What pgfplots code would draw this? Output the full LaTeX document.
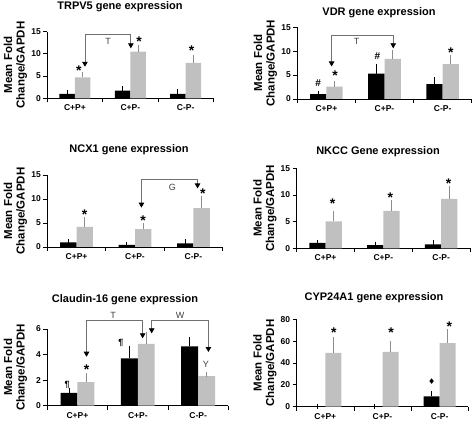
\documentclass[border=0pt]{standalone}
\usepackage{pgfplots}
\pgfplotsset{compat=1.18}
\usepackage{fontspec}
\setmainfont{Liberation Sans}
\newfontfamily\dejavu{DejaVu Sans}
\usetikzlibrary{arrows.meta}
\definecolor{barg}{HTML}{C0C0C0}
\definecolor{errg}{HTML}{8C8C8C}
\definecolor{brkc}{HTML}{707070}

\pgfplotsset{
 panel/.style={
  ybar, bar width=0.28, ybar=0pt,
  scale only axis, anchor=south west,
  xmin=0.5, xmax=3.5, ymin=0,
  axis x line*=bottom, axis y line*=left,
  axis line style={line width=0.8pt},
  xtick={0.5,1.5,2.5,3.5}, x tick label as interval,
  xticklabels={C+P+,C+P-,C-P-},
  tick align=outside, major tick length=4pt,
  tick style={black, line width=0.8pt},
  xticklabel style={font=\fontsize{8.5}{10}\selectfont\bfseries, yshift=1pt},
  yticklabel style={font=\fontsize{8.5}{10}\selectfont\bfseries, xshift=1pt},
  /pgf/number format/assume math mode=true,
  ylabel={Mean Fold\\Change/GAPDH},
  ylabel style={font=\fontsize{11.5}{12.5}\selectfont\bfseries, align=center,
    at={([xshift=-20pt]axis description cs:0,0.5)}, anchor=south, inner sep=0pt},
  clip=false,
 },
 blk/.style={fill=black, draw=none, error bars/.cd, y dir=plus, y explicit,
   error bar style={draw=black, line width=0.8pt},
   error mark options={draw=black, mark size=2.5pt, line width=0.8pt}},
 gry/.style={fill=barg, draw=none, error bars/.cd, y dir=plus, y explicit,
   error bar style={draw=errg, line width=0.8pt},
   error mark options={draw=errg, mark size=2.5pt, line width=0.8pt}},
}
\tikzset{
 brk/.style={draw=brkc, line width=0.8pt,
   {Triangle[length=5pt,width=5.5pt,color=black,fill=black]}-{Triangle[length=5pt,width=5.5pt,color=black,fill=black]}},
 star/.style={font=\fontsize{14}{14}\selectfont\bfseries, anchor=base, yshift=-7.8pt, inner sep=0pt},
 hash/.style={font=\fontsize{10}{10}\selectfont\bfseries, inner sep=0pt},
 para/.style={font=\fontsize{9}{9}\selectfont\bfseries, inner sep=0pt},
 lett/.style={font=\fontsize{9}{9}\selectfont, text=black!75, inner sep=0pt},
 ttl/.style={font=\fontsize{11}{13}\selectfont\bfseries},
}

\begin{document}
\begin{tikzpicture}
\useasboundingbox (0,0) rectangle (473pt,420pt);

% ---------- TRPV5 ----------
\node[ttl] at (120pt,413pt) {TRPV5 gene expression};
\begin{axis}[panel, at={(47.3pt,321.7pt)}, width=166pt, height=66.6pt,
  ymax=15, ytick={0,5,10,15}]
\addplot[blk] coordinates {(1,1.0) +- (0,0.2) (2,1.7) +- (0,0.4) (3,1.0) +- (0,0.5)};
\addplot[gry] coordinates {(1,4.7) +- (0,0.75) (2,10.5) +- (0,1.05) (3,8.0) +- (0,1.3)};
\draw[brk] (axis cs:1.18,7.1) -- (axis cs:1.18,14.4) -- (axis cs:2.01,14.4) -- (axis cs:2.01,11.25);
\node[lett] at (axis cs:1.60,12.9) {T};
\node[star] at (axis cs:1.07,6.9) {*};
\node[star] at (axis cs:2.16,13.5) {*};
\node[star] at (axis cs:3.11,11.5) {*};
\end{axis}

% ---------- VDR ----------
\node[ttl] at (379pt,407.3pt) {VDR gene expression};
\begin{axis}[panel, at={(297.3pt,321pt)}, width=174.4pt, height=71.7pt,
  ymax=15, ytick={0,5,10,15}]
\addplot[blk] coordinates {(1,1.0) +- (0,0.25) (2,5.3) +- (0,1.5) (3,3.1) +- (0,0.9)};
\addplot[gry] coordinates {(1,2.6) +- (0,0.7) (2,8.4) +- (0,1.4) (3,7.3) +- (0,1.3)};
\draw[brk] (axis cs:1.09,6.8) -- (axis cs:1.09,13.4) -- (axis cs:2.15,13.4) -- (axis cs:2.15,10.6);
\node[lett] at (axis cs:1.52,12.0) {T};
\node[hash] at (axis cs:0.86,3.3) {\#};
\node[star] at (axis cs:1.15,5.4) {*};
\node[hash] at (axis cs:1.88,8.9) {\#};
\node[star] at (axis cs:3.14,10.3) {*};
\end{axis}

% ---------- NCX1 ----------
\node[ttl] at (129pt,270pt) {NCX1 gene expression};
\begin{axis}[panel, at={(47.3pt,173pt)}, width=175.4pt, height=72pt,
  ymax=15, ytick={0,5,10,15}]
\addplot[blk] coordinates {(1,0.95) +- (0,0.15) (2,0.45) +- (0,0.12) (3,0.75) +- (0,0.3)};
\addplot[gry] coordinates {(1,4.2) +- (0,1.6) (2,3.7) +- (0,0.8) (3,8.1) +- (0,2.0)};
\draw[brk] (axis cs:2.11,8.2) -- (axis cs:2.11,14.0) -- (axis cs:3.07,14.0) -- (axis cs:3.07,12.2);
\node[lett] at (axis cs:2.64,12.4) {G};
\node[star] at (axis cs:1.14,7.4) {*};
\node[star] at (axis cs:2.14,6.2) {*};
\node[star] at (axis cs:3.16,11.7) {*};
\end{axis}

% ---------- NKCC ----------
\node[ttl] at (378pt,268pt) {NKCC Gene expression};
\begin{axis}[panel, at={(296.7pt,171.7pt)}, width=173.3pt, height=80pt,
  ymax=15, ytick={0,5,10,15}]
\addplot[blk] coordinates {(1,1.0) +- (0,0.05) (2,0.6) +- (0,0.2) (3,0.75) +- (0,0.35)};
\addplot[gry] coordinates {(1,5.05) +- (0,1.55) (2,7.0) +- (0,1.6) (3,9.25) +- (0,2.0)};
\node[star] at (axis cs:1.12,8.9) {*};
\node[star] at (axis cs:2.12,10.0) {*};
\node[star] at (axis cs:3.13,12.7) {*};
\end{axis}

% ---------- Claudin-16 ----------
\node[ttl] at (125pt,120pt) {Claudin-16 gene expression};
\begin{axis}[panel, at={(47.3pt,14.3pt)}, width=181pt, height=76.7pt,
  ymax=6, ytick={0,2,4,6}]
\addplot[blk] coordinates {(1,1.0) +- (0,0.22) (2,3.7) +- (0,0.8) (3,4.64) +- (0,0.56)};
\addplot[gry] coordinates {(1,1.85) +- (0,0.52) (2,4.84) +- (0,0.74) (3,2.32) +- (0,0.14)};
\draw[brk] (axis cs:1.15,3.83) -- (axis cs:1.15,6.68) -- (axis cs:2.08,6.68) -- (axis cs:2.08,5.27);
\draw[brk] (axis cs:2.23,5.66) -- (axis cs:2.23,6.68) -- (axis cs:3.17,6.68) -- (axis cs:3.17,4.2);
\node[lett] at (axis cs:1.59,7.1) {T};
\node[lett] at (axis cs:2.70,7.1) {W};
\node[para] at (axis cs:0.83,1.6) {¶};
\node[star] at (axis cs:1.15,3.05) {*};
\node[para] at (axis cs:1.72,4.9) {¶};
\node[lett] at (axis cs:3.13,3.2) {Y};
\end{axis}

% ---------- CYP24A1 ----------
\node[ttl] at (374pt,122pt) {CYP24A1 gene expression};
\begin{axis}[panel, at={(296.7pt,13.3pt)}, width=171.6pt, height=87.4pt,
  ymax=80, ytick={0,20,40,60,80}]
\addplot[blk] coordinates {(1,0.4) +- (0,0.1) (2,0.4) +- (0,0.1) (3,9.5) +- (0,2.5)};
\addplot[gry] coordinates {(1,49.2) +- (0,12.4) (2,50.2) +- (0,7.6) (3,58.3) +- (0,10.5)};
\node[star] at (axis cs:1.15,70.2) {*};
\node[star] at (axis cs:2.15,70.2) {*};
\node[star] at (axis cs:3.17,76.3) {*};
\node[font=\dejavu\fontsize{8}{8}\selectfont, inner sep=0pt] at (axis cs:2.86,22.9) {♦};
\end{axis}
\end{tikzpicture}
\end{document}
